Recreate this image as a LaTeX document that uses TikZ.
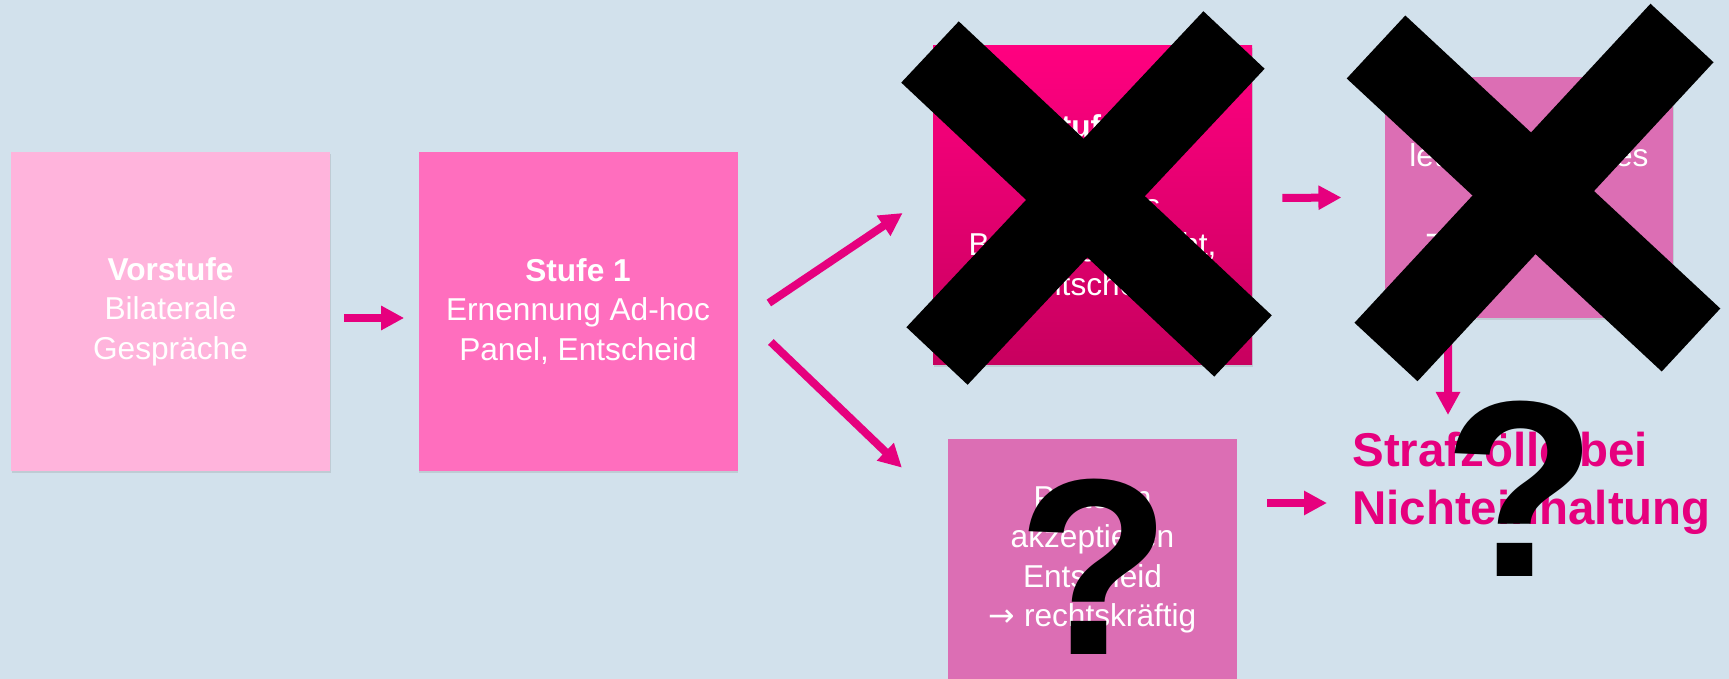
\documentclass[tikz,border=0pt]{standalone}
\usepackage{fontspec}
\setmainfont{Liberation Sans}
\newfontfamily\arrowfont{DejaVu Sans}
\usetikzlibrary{arrows.meta,shadows}

\definecolor{bgblue}{HTML}{D2E1EC}
\definecolor{pinklight}{HTML}{FFB4DC}
\definecolor{pinkmid}{HTML}{FF6EBE}
\definecolor{pinktop}{HTML}{FF0080}
\definecolor{pinkbottom}{HTML}{C8005F}
\definecolor{mauve}{HTML}{DC6EB4}
\definecolor{magentadark}{HTML}{E6007E}

\newcommand{\then}{{\arrowfont →}}

\begin{document}
\begin{tikzpicture}[
  font=\fontsize{18}{22.5}\selectfont,
  stage/.style={
    minimum width=6.38cm,
    minimum height=6.38cm,
    inner sep=0pt,
    align=center,
    text=white,
    drop shadow={shadow xshift=0.4pt, shadow yshift=-1.2pt, opacity=0.22}
  },
  outcome/.style={
    stage,
    minimum width=5.77cm,
    minimum height=4.82cm,
    fill=mauve
  },
  arrow/.style={-{Triangle[length=4.6mm,width=4.6mm]}, line width=1.6mm, draw=magentadark},
  cross/.style={line width=1.68cm, draw=black},
  qmark/.style={font=\fontsize{143}{143}\selectfont\bfseries, anchor=base, inner sep=0pt}
]

\useasboundingbox (0,0) rectangle (34.58,-13.58);
\fill[bgblue] (0,0) rectangle (34.58,-13.58);

% stages
\node[stage, fill=pinklight] (vorstufe) at (3.41,-6.23)
  {\textbf{Vorstufe}\\Bilaterale\\Gespräche};
\node[stage, fill=pinkmid] (stufeA) at (11.56,-6.23)
  {\textbf{Stufe 1}\\Ernennung Ad-hoc\\Panel, Entscheid};
\node[stage, top color=pinktop, bottom color=pinkbottom] (stufeB) at (21.85,-4.10)
  {\textbf{Stufe 2}\\Berufung,\\ständiges\\Berufungsgericht,\\Entscheid};

% outcomes
\node[outcome] (urteil) at (30.58,-3.95)
  {letztinstanzliches\\Urteil\\\then{} rechtskräftig};
\node[outcome] (akzept) at (21.85,-11.19)
  {Parteien\\akzeptieren\\Entscheid\\\then{} rechtskräftig};

\node[anchor=north west, inner sep=0pt, align=left, text=magentadark,
  font=\fontsize{27}{33}\selectfont\bfseries] (strafe) at (27.04,-8.64)
  {Strafzölle bei\\Nichteinhaltung};
\coordinate (strafetop) at (28.96,-8.30);

\draw[arrow] ([xshift=0.28cm,yshift=-0.13cm]vorstufe.east) -- ([xshift=-0.28cm,yshift=-0.13cm]stufeA.west);
\draw[arrow] ([shift={(0.62,0.17)}]stufeA.east) -- ([shift={(-0.6,-0.16)}]stufeB.west);
\draw[arrow] ([shift={(0.66,-0.61)}]stufeA.east) -- ([shift={(-0.92,-0.58)}]akzept.north west);
\draw[arrow] ([shift={(0.6,0.14)}]stufeB.east) -- ([shift={(-0.86,0)}]urteil.west);
\draw[arrow] ([xshift=-1.62cm]urteil.south) -- (strafetop);
\draw[arrow] ([shift={(0.6,1.13)}]akzept.east) coordinate (fromakzept) -- ([xshift=-0.5cm]fromakzept -| strafe.west);

% crossed out
\draw[cross] (18.60,-1.04) -- (24.86,-6.92);
\draw[cross] (24.68,-0.80) -- (18.74,-7.12);
\draw[cross, line width=1.72cm] (27.52,-0.94) -- (33.82,-6.80);
\draw[cross, line width=1.72cm] (33.64,-0.66) -- (27.72,-7.04);

\node[qmark] (fragA) at (21.88,-13.10) {?};
\node[qmark] (fragB) at (30.40,-11.54) {?};

\end{tikzpicture}
\end{document}
